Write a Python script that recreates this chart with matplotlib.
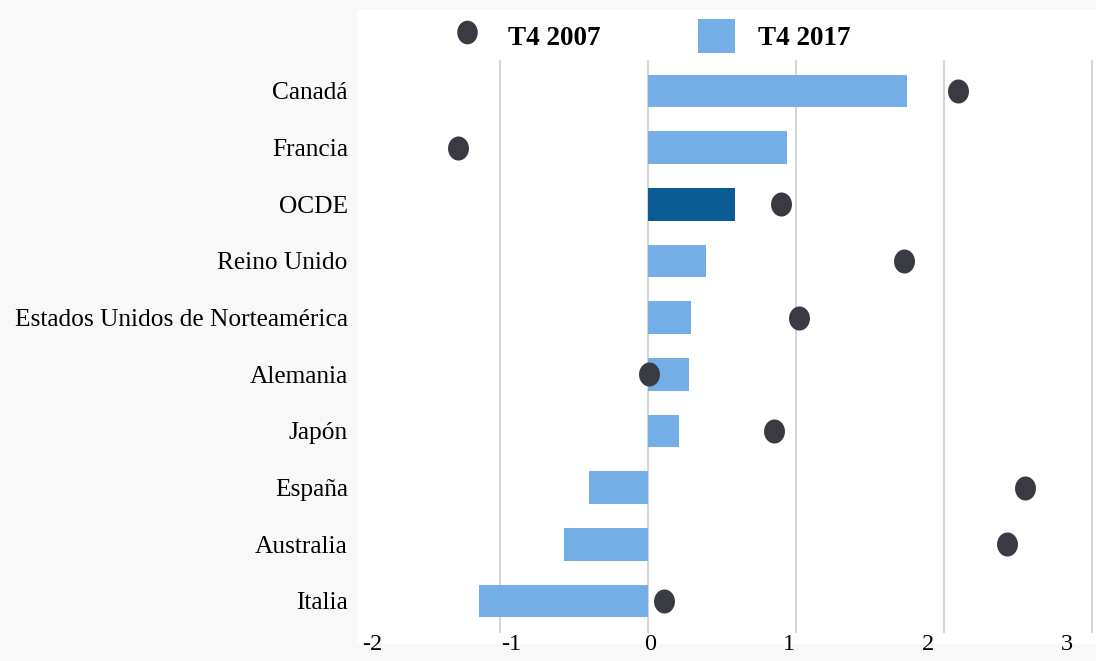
import numpy as np
import matplotlib.pyplot as plt
from matplotlib.patches import Rectangle, Patch
from matplotlib.lines import Line2D
from matplotlib.path import Path

plt.rcParams['font.family'] = ['Liberation Serif', 'DejaVu Serif']

# datos
paises = ['Canadá', 'Francia', 'OCDE', 'Reino Unido',
          'Estados Unidos de Norteamérica', 'Alemania', 'Japón',
          'España', 'Australia', 'Italia']
t4_2017 = [1.75, 0.94, 0.59, 0.39, 0.29, 0.28, 0.21, -0.40, -0.57, -1.14]
t4_2007 = [2.10, -1.28, 0.90, 1.73, 1.02, 0.01, 0.85, 2.55, 2.43, 0.11]
xticks = [-2, -1, 0, 1, 2, 3]

azul = '#74aee6'
azul_osc = '#0a5a94'
gris_punto = '#3a3b42'

W, H = 1096, 661
fig = plt.figure(figsize=(W / 100, H / 100), dpi=100, facecolor='#f8f8f8')

# fondo blanco del area del grafico
fig.patches.append(Rectangle((357 / W, 1 - 643 / H), (W - 357) / W, (643 - 10) / H,
                             transform=fig.transFigure, color='white', zorder=-1))

ax = fig.add_axes([352 / W, 1 - 633 / H, (W - 352) / W, (633 - 60) / H])
ax.set_facecolor('none')
ax.set_zorder(1)

y = np.arange(len(paises))
colores = [azul_osc if p == 'OCDE' else azul for p in paises]
ax.barh(y, t4_2017, height=0.58, color=colores, zorder=2)

# marcador eliptico (un poco mas alto que ancho)
th = np.linspace(0, 2 * np.pi, 60)
elipse = Path(np.c_[0.87 * np.cos(th), np.sin(th)], closed=True)
ax.scatter(t4_2007, y, marker=elipse, s=300, color=gris_punto, zorder=3, linewidths=0)

ax.set_xlim(-2, 3.03)
ax.set_ylim(9.565, -0.547)
ax.set_xticks(xticks)
ax.set_yticks(y)
ax.set_yticklabels(paises)
ax.tick_params(axis='both', length=0, labelsize=18.3, colors='black')
ax.tick_params(axis='y', pad=3)
ax.tick_params(axis='x', labelbottom=False)
for s in ax.spines.values():
    s.set_visible(False)
ax.grid(axis='x', color='#d4d4d4', linewidth=1.4, zorder=1)
ax.grid(axis='y', visible=False)
ax.set_axisbelow(True)
ax.xaxis.get_gridlines()[0].set_visible(False)

# en el original las etiquetas del eje x van algo mas juntas que la rejilla
sec = ax.secondary_xaxis('bottom', functions=(lambda u: (u * 148 - 2) / 139,
                                              lambda v: (v * 139 + 2) / 148))
sec.set_xticks(xticks)
sec.set_xticklabels([str(v) for v in xticks])
sec.tick_params(length=0, labelsize=17.5, pad=1)
sec.spines['bottom'].set_visible(False)

handles = [Line2D([], [], marker=elipse, linestyle='None', markersize=17,
                  color=gris_punto, markeredgewidth=0),
           Patch(facecolor=azul, edgecolor='none')]
fig.legend(handles, ['T4 2007', 'T4 2017'], loc='center left',
           bbox_to_anchor=(448 / W, 1 - 36 / H), ncol=2, frameon=False,
           prop={'weight': 'bold', 'size': 19.5}, handlelength=1.37,
           handleheight=1.5, handletextpad=0.85, columnspacing=3.6,
           borderaxespad=0, borderpad=0)

fig.savefig('out.png', dpi=100, facecolor=fig.get_facecolor())
